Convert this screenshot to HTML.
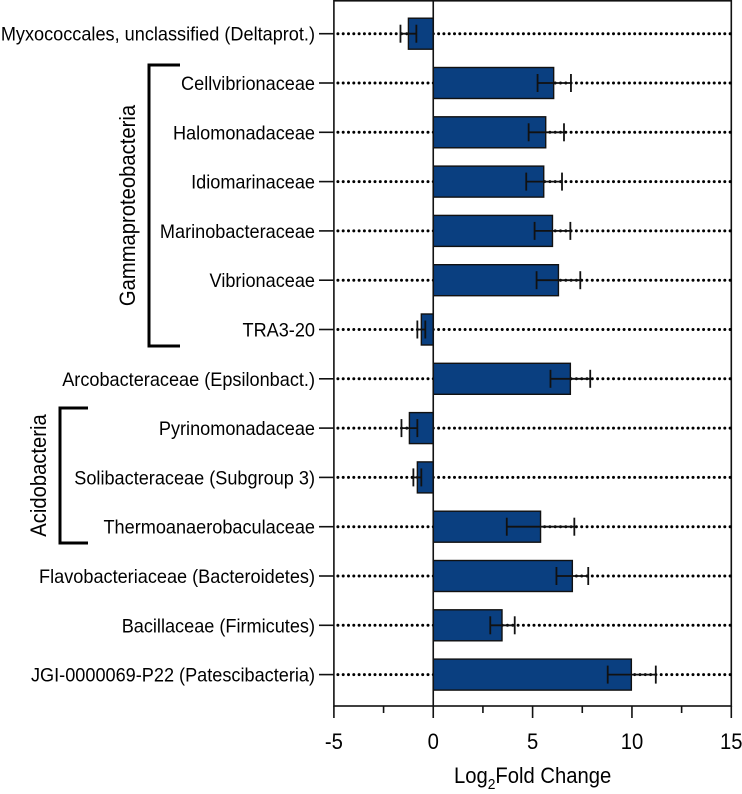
<!DOCTYPE html>
<html><head><meta charset="utf-8"><style>
html,body{margin:0;padding:0;background:#fff;}
svg{display:block;font-family:"Liberation Sans",Arial,sans-serif;}
</style></head><body>
<svg id="chart" width="742" height="794"></svg>
<script>
const categories=["Myxococcales, unclassified (Deltaprot.)","Cellvibrionaceae","Halomonadaceae","Idiomarinaceae","Marinobacteraceae","Vibrionaceae","TRA3-20","Arcobacteraceae (Epsilonbact.)","Pyrinomonadaceae","Solibacteraceae (Subgroup 3)","Thermoanaerobaculaceae","Flavobacteriaceae (Bacteroidetes)","Bacillaceae (Firmicutes)","JGI-0000069-P22 (Patescibacteria)"];
const values=[-1.25,6.06,5.66,5.56,6.0,6.3,-0.6,6.9,-1.2,-0.8,5.4,7.0,3.46,9.97];
const errLow=[-1.65,5.25,4.8,4.68,5.1,5.2,-0.8,5.9,-1.6,-1.0,3.7,6.2,2.87,8.78];
const errHigh=[-0.85,6.93,6.58,6.48,6.9,7.4,-0.4,7.9,-0.8,-0.6,7.1,7.8,4.1,11.2];
const xTicks=[-5,0,5,10,15];
const NS="http://www.w3.org/2000/svg";
const svg=document.getElementById("chart");
const X0=333.9,X1=731.3,XMIN=-5,XMAX=15;
function xs(v){return X0+(v-XMIN)/(XMAX-XMIN)*(X1-X0);}
function ys(i){return 33.7+i*49.3;}
function mk(tag,attrs,parent){const e=document.createElementNS(NS,tag);for(const k in attrs)e.setAttribute(k,attrs[k]);(parent||svg).appendChild(e);return e;}
const frame=mk("rect",{x:X0,y:0.8,width:X1-X0,height:706-0.8,fill:"none",stroke:"#111","stroke-width":1.6});


categories.forEach((c,i)=>{
  const y=ys(i);
  const g=mk("g",{});
  
  
  const x0=xs(0),xv=xs(values[i]);
  const gl=mk("line",{x1:X0+4,x2:X1,y1:y,y2:y,stroke:"#000","stroke-width":3,"stroke-dasharray":"0 5.3","stroke-linecap":"round"},g);
  
  
  const tk=mk("line",{x1:319,x2:X0,y1:y,y2:y,stroke:"#111","stroke-width":1.6},g);
  
  
  const b=mk("rect",{x:Math.min(x0,xv),y:y-15.5,width:Math.abs(xv-x0),height:31,fill:"#0a3f80",stroke:"#111","stroke-width":1.4},g);
  
  
  const el=xs(errLow[i]),eh=xs(errHigh[i]);
  const e1=mk("line",{x1:el,x2:eh,y1:y,y2:y,stroke:"#111","stroke-width":1.8},g);
  
  
  [el,eh].forEach(ex=>{const c2=mk("line",{x1:ex,x2:ex,y1:y-9,y2:y+9,stroke:"#111","stroke-width":1.8},g);
    
    });
  const t=mk("text",{x:0,y:0,"text-anchor":"end","font-size":19.5,fill:"#000",transform:`translate(315 ${y+7}) scale(0.93 1)`},g);
  t.textContent=c;
  
  
});
const zl=mk("line",{x1:xs(0),x2:xs(0),y1:0,y2:706,stroke:"#111","stroke-width":1.6});


for(let v=XMIN;v<=XMAX;v+=2.5){
  const major=v%5===0;
  const t=mk("line",{x1:xs(v),x2:xs(v),y1:706,y2:major?718:713,stroke:"#111","stroke-width":1.6});
  
  
}
xTicks.forEach(v=>{
  const t=mk("text",{x:0,y:0,"text-anchor":"middle","font-size":22,fill:"#000",transform:`translate(${xs(v)} 749) scale(0.92 1)`});
  t.textContent=String(v);
  
  
});
const xt=mk("text",{x:0,y:0,"text-anchor":"middle","font-size":22,fill:"#000",transform:`translate(${xs(5)} 783) scale(0.92 1)`});
xt.innerHTML='Log<tspan dy="6" font-size="15">2</tspan><tspan dy="-6">Fold Change</tspan>';


function bracket(name,x,y1,y2,arm,label,lx){
  const p=mk("path",{d:`M${x+arm},${y1} H${x} V${y2} H${x+arm}`,fill:"none",stroke:"#000","stroke-width":3});
  
  
  const cy=(y1+y2)/2;
  const t=mk("text",{x:0,y:0,"text-anchor":"middle","font-size":22,fill:"#000",transform:`translate(${lx} ${cy}) rotate(-90) scale(0.92 1)`});
  t.textContent=label;
  
  
}
bracket("gammaproteobacteria",149,65,346,31,"Gammaproteobacteria",135);
bracket("acidobacteria",60,408,543,28,"Acidobacteria",46);
</script>
</body></html>
